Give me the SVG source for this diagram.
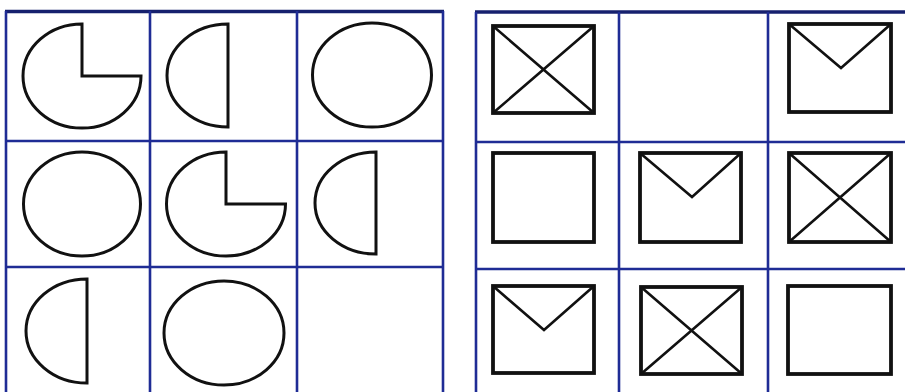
<svg xmlns="http://www.w3.org/2000/svg" width="905" height="392" viewBox="0 0 905 392">
<style>
.grid{stroke:#1f2c95;stroke-width:2.6;fill:none}
.gtop{stroke:#16206e;stroke-width:3.4;fill:none}
.sh{stroke:#111;stroke-width:3;fill:none;stroke-linejoin:miter}
.bx{stroke:#111;stroke-width:3.8;fill:none;stroke-linejoin:miter}
.ln{stroke:#111;stroke-width:2.6;fill:none}
</style>
<rect width="905" height="392" fill="#fff"/>
<g id="left-grid">
<line class="gtop" x1="5" y1="11.5" x2="444" y2="11.5"/>
<line class="grid" x1="6" y1="11" x2="6" y2="392"/>
<line class="grid" x1="150" y1="11" x2="150" y2="392"/>
<line class="grid" x1="297" y1="11" x2="297" y2="392"/>
<line class="grid" x1="443" y1="11" x2="443" y2="392"/>
<line class="grid" x1="6" y1="141" x2="443" y2="141"/>
<line class="grid" x1="6" y1="267" x2="443" y2="267"/>
</g>
<g id="right-grid">
<line class="gtop" x1="475" y1="12" x2="905" y2="12"/>
<line class="grid" x1="476" y1="12" x2="476" y2="392"/>
<line class="grid" x1="619" y1="12" x2="619" y2="392"/>
<line class="grid" x1="768" y1="12" x2="768" y2="392"/>
<line class="grid" x1="476" y1="142" x2="905" y2="142"/>
<line class="grid" x1="476" y1="269" x2="905" y2="269"/>
</g>
<g id="l00"><path class="sh" d="M82,24 A59,52 0 1 0 141,76 L82,76 Z"/></g>
<g id="l01"><path class="sh" d="M228,24 A61,51.5 0 0 0 228,127 Z"/></g>
<g id="l02"><ellipse class="sh" cx="372" cy="75" rx="59.5" ry="52"/></g>
<g id="l10"><ellipse class="sh" cx="82" cy="204" rx="58.5" ry="52"/></g>
<g id="l11"><path class="sh" d="M226,152 A59.5,52 0 1 0 285.5,204 L226,204 Z"/></g>
<g id="l12"><path class="sh" d="M376,152 A61,51 0 0 0 376,254 Z"/></g>
<g id="l20"><path class="sh" d="M87,279 A61,52 0 0 0 87,383 Z"/></g>
<g id="l21"><ellipse class="sh" cx="224" cy="333" rx="60" ry="52"/></g>
<g id="r00"><rect class="bx" x="493" y="26" width="101" height="87"/><path class="ln" d="M493,26 L594,113 M594,26 L493,113"/></g>
<g id="r02"><rect class="bx" x="789" y="24" width="102" height="88"/><path class="ln" d="M789,24 L841,68 L891,24"/></g>
<g id="r10"><rect class="bx" x="493" y="153" width="101" height="89"/></g>
<g id="r11"><rect class="bx" x="640" y="153" width="101" height="89"/><path class="ln" d="M640,153 L692,197 L741,153"/></g>
<g id="r12"><rect class="bx" x="789" y="153" width="102" height="89"/><path class="ln" d="M789,153 L891,242 M891,153 L789,242"/></g>
<g id="r20"><rect class="bx" x="493" y="286" width="101" height="87"/><path class="ln" d="M493,286 L544,330 L594,286"/></g>
<g id="r21"><rect class="bx" x="641" y="287" width="101" height="87"/><path class="ln" d="M641,287 L742,374 M742,287 L641,374"/></g>
<g id="r22"><rect class="bx" x="788" y="286" width="103" height="88"/></g>
</svg>
